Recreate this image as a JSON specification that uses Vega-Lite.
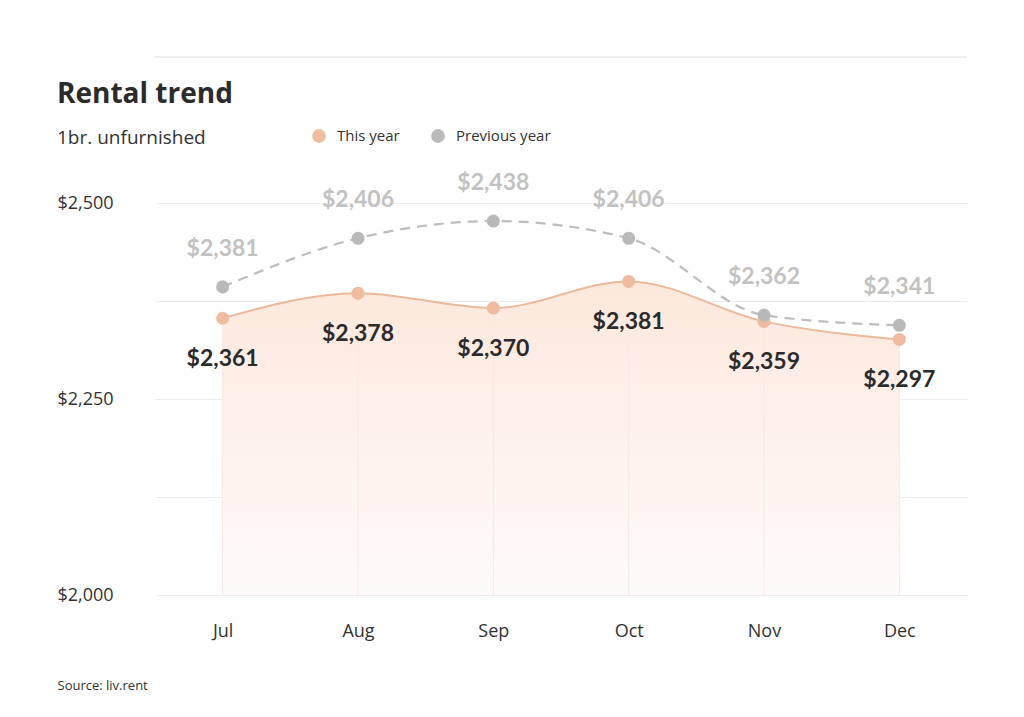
{
  "$schema": "https://vega.github.io/schema/vega-lite/v6.json",
  "width": 812,
  "height": 392,
  "autosize": {"type": "none"},
  "padding": {"left": 155, "top": 203, "right": 57, "bottom": 122},
  "background": "#ffffff",
  "config": {"view": {"stroke": null}, "font": "Open Sans"},
  "title": {
    "text": "Rental trend",
    "subtitle": "1br. unfurnished",
    "anchor": "start",
    "frame": "bounds",
    "font": "Open Sans",
    "fontSize": 28,
    "fontWeight": "bold",
    "color": "#2b2b2b",
    "subtitleFont": "Open Sans",
    "subtitleFontSize": 19,
    "subtitleColor": "#333333",
    "subtitlePadding": 20,
    "offset": -91
  },
  "data": {
    "values": [
      {"month": "Jul", "series": "This year", "value": 2353, "label": "$2,361"},
      {"month": "Aug", "series": "This year", "value": 2385, "label": "$2,378"},
      {"month": "Sep", "series": "This year", "value": 2366, "label": "$2,370"},
      {"month": "Oct", "series": "This year", "value": 2400, "label": "$2,381"},
      {"month": "Nov", "series": "This year", "value": 2349, "label": "$2,359"},
      {"month": "Dec", "series": "This year", "value": 2326, "label": "$2,297"},
      {"month": "Jul", "series": "Previous year", "value": 2393, "label": "$2,381"},
      {"month": "Aug", "series": "Previous year", "value": 2455, "label": "$2,406"},
      {"month": "Sep", "series": "Previous year", "value": 2477, "label": "$2,438"},
      {"month": "Oct", "series": "Previous year", "value": 2455, "label": "$2,406"},
      {"month": "Nov", "series": "Previous year", "value": 2357, "label": "$2,362"},
      {"month": "Dec", "series": "Previous year", "value": 2344, "label": "$2,341"}
    ]
  },
  "encoding": {
    "x": {
      "field": "month",
      "type": "ordinal",
      "sort": ["Jul", "Aug", "Sep", "Oct", "Nov", "Dec"],
      "scale": {"type": "point", "padding": 0.5},
      "axis": {
        "title": "Source: liv.rent",
        "titleFont": "Open Sans",
        "titleFontSize": 13,
        "titleFontWeight": "normal",
        "titleColor": "#333333",
        "titleAlign": "left",
        "titleAnchor": "start",
        "titleBaseline": "middle",
        "titleX": -98,
        "titleY": 90,
        "labelAngle": 0,
        "labelFont": "Open Sans",
        "labelFontSize": 18,
        "labelColor": "#333333",
        "labelPadding": 27,
        "domain": false,
        "ticks": false,
        "grid": false
      }
    },
    "y": {
      "field": "value",
      "type": "quantitative",
      "scale": {"domain": [2000, 2500], "zero": false, "nice": false},
      "axis": {
        "title": null,
        "values": [2000, 2125, 2250, 2375, 2500],
        "labelExpr": "datum.value % 250 == 0 ? '$' + format(datum.value, ',') : ''",
        "labelFont": "Open Sans",
        "labelFontSize": 18,
        "labelColor": "#333333",
        "labelAlign": "left",
        "labelPadding": 98,
        "domain": false,
        "ticks": false,
        "grid": true,
        "gridColor": "#ededed",
        "gridWidth": 1
      }
    }
  },
  "layer": [
    {
      "mark": {"type": "rule", "color": "#eeeeee", "strokeWidth": 1, "clip": false},
      "encoding": {"x": null, "y": {"datum": 2686}}
    },
    {
      "transform": [{"filter": "datum.series == 'This year'"}],
      "mark": {
        "type": "area",
        "interpolate": "monotone",
        "color": {
          "gradient": "linear",
          "x1": 0, "y1": 0, "x2": 0, "y2": 1,
          "stops": [
            {"offset": 0, "color": "#fde8dc"},
            {"offset": 1, "color": "#fffbfb"}
          ]
        }
      },
      "encoding": {"y2": {"datum": 2000}}
    },
    {
      "transform": [{"filter": "datum.series == 'This year'"}],
      "mark": {"type": "rule", "color": "#f6e9e4", "strokeWidth": 1},
      "encoding": {"y2": {"datum": 2000}}
    },
    {
      "transform": [{"filter": "datum.series == 'Previous year'"}],
      "mark": {"type": "line", "interpolate": "monotone", "color": "#bdbdbd", "strokeWidth": 2.2, "strokeDash": [10, 7]}
    },
    {
      "transform": [{"filter": "datum.series == 'This year'"}],
      "mark": {"type": "line", "interpolate": "monotone", "color": "#ebb99b", "strokeWidth": 2}
    },
    {
      "mark": {"type": "circle", "size": 170, "opacity": 1},
      "encoding": {
        "color": {
          "field": "series",
          "type": "nominal",
          "scale": {"domain": ["This year", "Previous year"], "range": ["#efbc9f", "#b9b9b9"]},
          "legend": {
            "title": null,
            "orient": "none",
            "direction": "horizontal",
            "legendX": 156,
            "legendY": -75,
            "symbolType": "circle",
            "symbolSize": 190,
            "symbolOpacity": 1,
            "labelFont": "Open Sans",
            "labelFontSize": 15,
            "labelColor": "#333333",
            "labelOffset": 10,
            "columnPadding": 30
          }
        }
      }
    },
    {
      "transform": [{"filter": "datum.series == 'Previous year'"}],
      "mark": {"type": "text", "font": "Lato", "fontWeight": "bold", "fontSize": 23, "color": "#c2c2c2", "dy": -38, "baseline": "middle"},
      "encoding": {"text": {"field": "label"}}
    },
    {
      "transform": [{"filter": "datum.series == 'This year'"}],
      "mark": {"type": "text", "font": "Lato", "fontWeight": "bold", "fontSize": 23, "color": "#2b2b2b", "dy": 41, "baseline": "middle"},
      "encoding": {"text": {"field": "label"}}
    }
  ]
}
